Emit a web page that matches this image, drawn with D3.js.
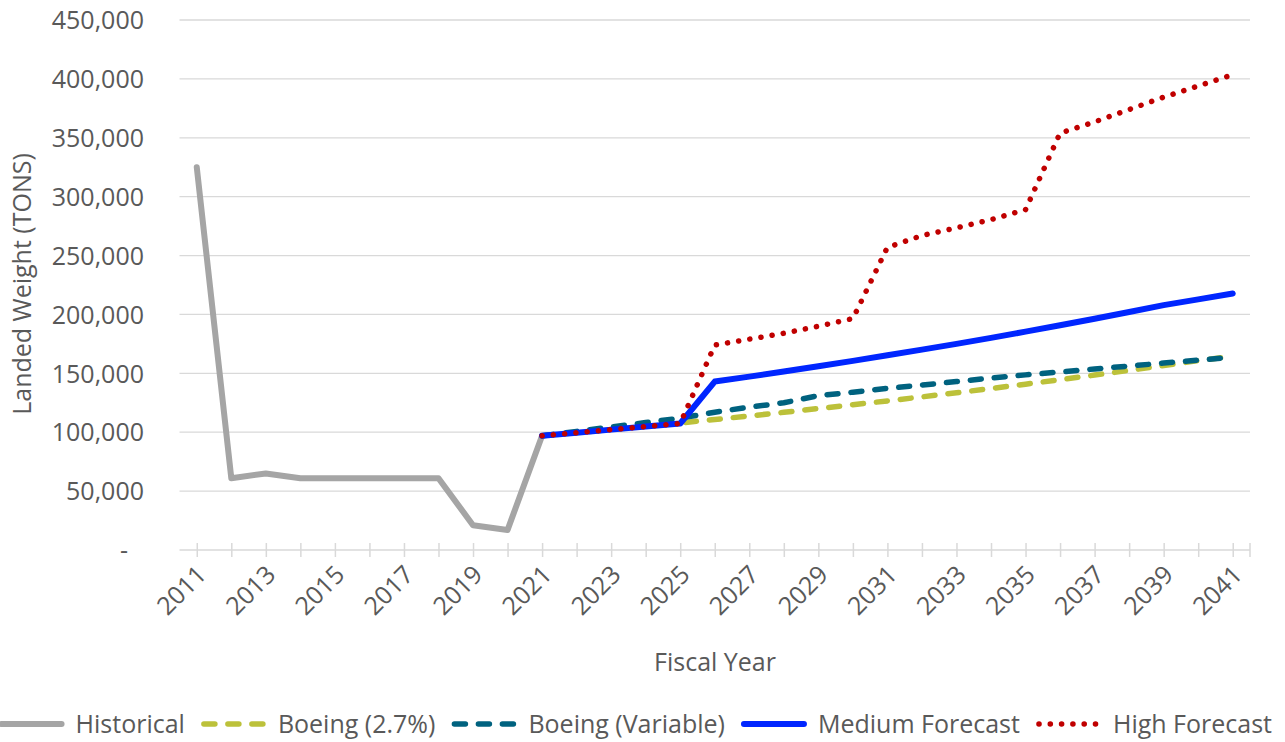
<!DOCTYPE html>
<html>
<head>
<meta charset="utf-8">
<script src="https://cdn.jsdelivr.net/npm/d3@7/dist/d3.min.js"></script>
<style>
  html, body { margin: 0; padding: 0; background: #fff; }
  svg { display: block; font-family: "Open Sans", "Noto Sans", sans-serif; }
</style>
</head>
<body>
<svg id="chart" width="1285" height="742"></svg>
<script>
// ---------- data ----------
const years = d3.range(2011, 2042).map(String);
const yTicks = [0, 50000, 100000, 150000, 200000, 250000, 300000, 350000, 400000, 450000];

const historicalYears = ["2011","2012","2013","2014","2015","2016","2017","2018","2019","2020","2021"];
const historical = [325000, 61000, 65000, 61000, 61000, 61000, 61000, 61000, 21000, 17000, 97000];

const forecastYears = d3.range(2021, 2042).map(String);
const boeing27 = [97000, 99600, 102300, 105100, 107900, 110800, 113800, 116900, 120100, 123300,
                  126600, 130000, 133500, 137100, 140800, 144600, 148500, 152500, 156600, 160800, 164500];
const boeingVar = [97000, 100700, 104500, 108200, 112000, 117000, 121300, 125000, 131000, 134000,
                   137200, 140000, 143000, 146000, 148700, 151200, 153700, 156200, 158700, 161200, 163800];
const medium = [97000, 99600, 102200, 104800, 107400, 143000, 147200, 151500, 156000, 160600,
                165300, 170100, 175000, 180100, 185400, 190800, 196400, 202100, 207900, 212800, 217800];
const high = [97000, 99600, 102200, 104800, 107400, 174000, 179000, 184000, 190000, 196500,
              257000, 267000, 273500, 280500, 289000, 354000, 363500, 374000, 384500, 394000, 403500];

const seriesNames = ["Historical", "Boeing (2.7%)", "Boeing (Variable)", "Medium Forecast", "High Forecast"];

// ---------- styles ----------
const textColor = "#595959";
const gridColor = "#D9D9D9";
const styles = {
  "Historical":        { color: "#A5A5A5", width: 6,   dash: null,    cap: "round" },
  "Boeing (2.7%)":     { color: "#BCC13A", width: 5.5, dash: "11,13", cap: "round" },
  "Boeing (Variable)": { color: "#00627F", width: 5.5, dash: "11,13", cap: "round" },
  "Medium Forecast":   { color: "#0026FF", width: 6,   dash: null,    cap: "round" },
  "High Forecast":     { color: "#C00000", width: 5.5, dash: "0.1,11.2", cap: "round" }
};

const series = [
  { name: "Historical",        xs: historicalYears, ys: historical },
  { name: "Boeing (2.7%)",     xs: forecastYears,   ys: boeing27 },
  { name: "Boeing (Variable)", xs: forecastYears,   ys: boeingVar },
  { name: "Medium Forecast",   xs: forecastYears,   ys: medium },
  { name: "High Forecast",     xs: forecastYears,   ys: high }
];

// ---------- layout ----------
const svg = d3.select("#chart");
const plot = { left: 179.5, right: 1250, top: 20, bottom: 550 };
const fontSize = 25;

const x = d3.scalePoint().domain(years).range([plot.left, plot.right]).padding(0.5);
const y = d3.scaleLinear().domain([0, 450000]).range([plot.bottom, plot.top]);

// gridlines
svg.append("g").selectAll("line")
  .data(yTicks.filter(d => d > 0))
  .join("line")
  .attr("x1", plot.left).attr("x2", plot.right)
  .attr("y1", d => y(d)).attr("y2", d => y(d))
  .attr("stroke", gridColor).attr("stroke-width", 1.3);

// y axis labels (via d3 axis)
const fmt = d3.format(",");
const yAxis = d3.axisLeft(y).tickValues(yTicks).tickSize(0).tickPadding(0)
  .tickFormat(d => d === 0 ? "-" : fmt(d));
const gy = svg.append("g").attr("transform", `translate(144,0)`).call(yAxis);
gy.select(".domain").remove();
gy.selectAll("text")
  .attr("fill", textColor).attr("font-size", fontSize)
  .attr("font-family", '"Open Sans", "Noto Sans", sans-serif')
  .attr("dy", "0.35em")
  .attr("x", d => d === 0 ? -16 : 0);

// x axis
const xAxis = d3.axisBottom(x).tickSizeInner(7).tickSizeOuter(0).tickFormat("");
const gx = svg.append("g").attr("transform", `translate(0,${plot.bottom})`).call(xAxis);
gx.select(".domain").attr("stroke", gridColor).attr("stroke-width", 1.5)
  .attr("d", `M${plot.left},0H${plot.right}`);
gx.selectAll(".tick line").attr("stroke", gridColor).attr("stroke-width", 1.5).attr("y1", -7).attr("y2", 7);
gx.append("line").attr("x1", plot.right).attr("x2", plot.right).attr("y1", -7).attr("y2", 7)
  .attr("stroke", gridColor).attr("stroke-width", 1.5);

// x tick labels (every other year), rotated
svg.append("g").selectAll("text")
  .data(years.filter((d, i) => i % 2 === 0))
  .join("text")
  .attr("transform", d => `translate(${x(d) + 5},${plot.bottom + 20}) rotate(-45)`)
  .attr("text-anchor", "end")
  .attr("dy", "0.35em")
  .attr("fill", textColor).attr("font-size", fontSize)
  .text(d => d);

// axis titles
svg.append("text")
  .attr("x", 715).attr("y", 662).attr("dy", "0.35em")
  .attr("text-anchor", "middle").attr("fill", textColor).attr("font-size", fontSize)
  .text("Fiscal Year");
svg.append("text")
  .attr("transform", "translate(22,284) rotate(-90)")
  .attr("dy", "0.35em")
  .attr("text-anchor", "middle").attr("fill", textColor).attr("font-size", fontSize)
  .text("Landed Weight (TONS)");

// lines
const line = d3.line().x(d => x(d[0])).y(d => y(d[1]));
svg.append("g").selectAll("path")
  .data(series)
  .join("path")
  .attr("d", s => line(s.xs.map((xv, i) => [xv, s.ys[i]])))
  .attr("fill", "none")
  .attr("stroke", s => styles[s.name].color)
  .attr("stroke-width", s => styles[s.name].width)
  .attr("stroke-dasharray", s => styles[s.name].dash)
  .attr("stroke-linecap", s => styles[s.name].cap)
  .attr("stroke-linejoin", "round");

// legend
const legend = svg.append("g");
const symLen = 66, symGap = 11, itemGap = 16, legY = 724;
let cursor = 0;
seriesNames.forEach(name => {
  const g = legend.append("g");
  const st = styles[name];
  g.append("line")
    .attr("x1", cursor + 3).attr("x2", cursor + symLen - 3)
    .attr("y1", legY).attr("y2", legY)
    .attr("stroke", st.color).attr("stroke-width", st.width)
    .attr("stroke-dasharray", st.dash)
    .attr("stroke-linecap", st.cap);
  const t = g.append("text")
    .attr("x", cursor + symLen + symGap).attr("y", legY).attr("dy", "0.35em")
    .attr("fill", textColor).attr("font-size", fontSize)
    .text(name);
  const w = t.node().getComputedTextLength();
  cursor += symLen + symGap + w + itemGap;
});
const totalW = cursor - itemGap;
legend.attr("transform", `translate(${1272 - totalW},0)`);
</script>
</body>
</html>
